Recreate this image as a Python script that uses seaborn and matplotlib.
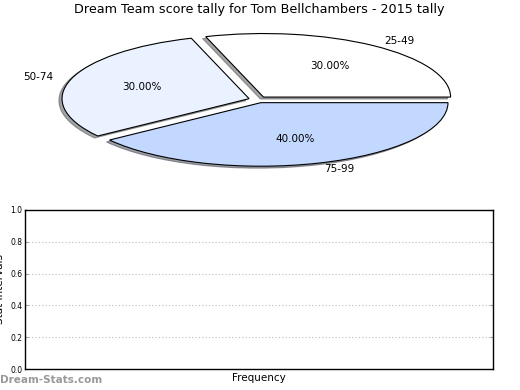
import matplotlib
matplotlib.use('Agg')
import matplotlib.pyplot as plt
import seaborn as sns

# Dados
labels = ['25-49', '50-74', '75-99']
shares = [30, 30, 40]
slice_colors = ['#ffffff', '#ebf2ff', '#c3d8ff']
y_ticks = [0.0, 0.2, 0.4, 0.6, 0.8, 1.0]
title = 'Dream Team score tally for Tom Bellchambers - 2015 tally'

sns.set_style('white')
plt.rcParams['font.family'] = ['DejaVu Sans']
plt.rcParams['text.color'] = 'black'
plt.rcParams['axes.labelcolor'] = 'black'
plt.rcParams['ytick.color'] = 'black'

fig = plt.figure(figsize=(5.2, 3.9), dpi=100)

# Pizza (eixo esticado para ficar eliptico)
ax_pie = fig.add_axes([0.0644, 0.549, 0.8635, 0.391])
wedges, texts, autotexts = ax_pie.pie(
    shares, labels=labels, colors=slice_colors, explode=[0.05] * len(shares),
    autopct='%.2f%%', shadow={'ox': -0.012, 'oy': -0.022}, startangle=0,
    counterclock=True,
    wedgeprops={'edgecolor': 'black', 'linewidth': 0.8},
    textprops={'fontsize': 7.5})
ax_pie.set_xlim(-1.2, 1.2)
ax_pie.set_ylim(-1.2, 1.2)
ax_pie.set_aspect('auto')
ax_pie.axis('off')
fig.text(0.498, 0.975, title, ha='center', va='center', fontsize=9.2)

# Grafico inferior vazio
ax = fig.add_axes([0.048, 0.0538, 0.9, 0.408])
ax.set_xlim(0, 1)
ax.set_ylim(0, 1)
ax.set_yticks(y_ticks)
ax.set_yticklabels(['%.1f' % v for v in y_ticks])
ax.set_xticks([])
for v in y_ticks[1:-1]:
    ax.axhline(v, color='#bbbbbb', linestyle=(0, (1, 2)), linewidth=0.8, zorder=0)
ax.tick_params(axis='y', which='both', direction='in', length=2, color='#999999',
               labelsize=5.5, left=True, right=True, pad=2)
for s in ax.spines.values():
    s.set_color('black')
    s.set_linewidth(1.0)
ax.set_ylabel('Stat Intervals', fontsize=7.5)
ax.yaxis.set_label_coords(-0.043, 0.5)
ax.set_xlabel('Frequency', fontsize=7.5, labelpad=3)

fig.text(0.0, 0.026, 'Dream-Stats.com', ha='left', va='center', fontsize=7.5,
         fontweight='bold', color='#999999')

plt.savefig('out.png', dpi=100)
